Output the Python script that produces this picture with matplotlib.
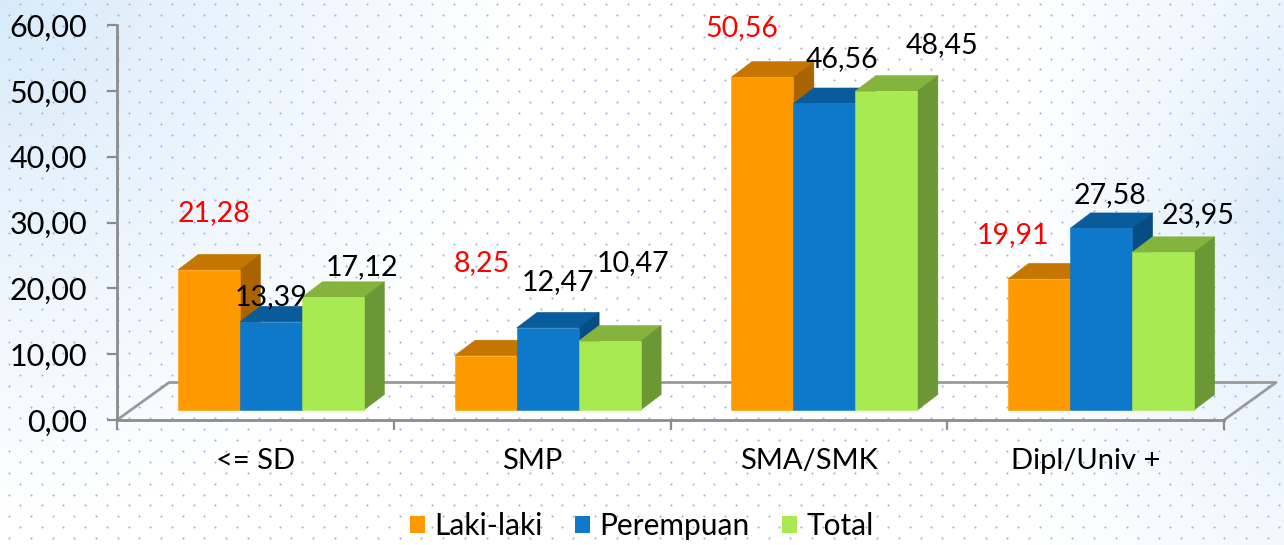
import numpy as np
import matplotlib
matplotlib.use('Agg')
import matplotlib.pyplot as plt
from matplotlib.patches import Polygon, Patch
from matplotlib.lines import Line2D

# ---------------- data ----------------
categories = ['<= SD', 'SMP', 'SMA/SMK', 'Dipl/Univ +']
series_names = ['Laki-laki', 'Perempuan', 'Total']
laki = [21.28, 8.25, 50.56, 19.91]
perempuan = [13.39, 12.47, 46.56, 27.58]
total = [17.12, 10.47, 48.45, 23.95]
yticks = [0, 10, 20, 30, 40, 50, 60]

# ---------------- style ----------------
front_colors = ['#FF9900', '#0E78CA', '#A8EA52']
top_colors = ['#C47600', '#0A5B9C', '#84B43E']
side_colors = ['#A96400', '#084C84', '#6B9834']
label_colors = ['#FF0000', '#000000', '#000000']
# value-label offsets in pixels relative to the front-top centre of each bar
label_offsets = [
    [(5, 57), (0, 25), (29, 30)],
    [(-4, 93), (10, 46), (23, 78)],
    [(-21, 49), (18, 44), (56, 46)],
    [(-26, 44), (9, 33), (35, 37)],
]
axis_grey = '#8c8c8c'
plt.rcParams['font.family'] = ['Lato', 'DejaVu Sans']

W, H = 1284, 545
fig = plt.figure(figsize=(W / 100, H / 100), dpi=100)

# ---------------- background ----------------
bg = fig.add_axes([0, 0, 1, 1])
bg.set_xlim(0, W)
bg.set_ylim(H, 0)
bg.axis('off')
xx, yy = np.meshgrid(np.linspace(0, 1, 400), np.linspace(0, 1, 170))
lt = np.clip(1 - np.sqrt((xx / 0.40) ** 2 + (yy / 0.95) ** 2), 0, 1)
rt = np.clip((xx - 0.80) / 0.20, 0, 1) * np.clip(1 - np.abs(yy - 0.4) / 0.9, 0, 1)
wgt = np.clip(np.maximum(lt * 1.0, rt * 0.9), 0, 1)
blue = np.array([0.85, 0.92, 0.98])
img = np.ones((170, 400, 3)) * (1 - wgt[..., None]) + blue * wgt[..., None]
bg.imshow(img, extent=[0, W, H, 0], aspect='auto', zorder=0)
dx_grid, dy_grid = 21.7, 10.9
pts = []
for r in range(int(H / dy_grid) + 2):
    y = 4 + r * dy_grid
    off = 0 if r % 2 == 0 else dx_grid / 2
    for c in range(int(W / dx_grid) + 2):
        pts.append((20 + off + c * dx_grid - dx_grid, y))
pts = np.array(pts)
bg.scatter(pts[:, 0], pts[:, 1], s=2.2, color='#a3b3e4', linewidths=0, zorder=1)

# ---------------- main axes ----------------
ax_l, ax_b, ax_w, ax_h = 117, 125, 1107, 395
ax = fig.add_axes([ax_l / W, ax_b / H, ax_w / W, ax_h / H])
ax.patch.set_visible(False)
ax.set_xlim(-0.5, len(categories) - 0.5)
ax.set_ylim(yticks[0], yticks[-1])
px_x = ax_w / (len(categories))          # pixels per x unit
px_y = ax_h / (yticks[-1] - yticks[0])   # pixels per y unit

# floor
fd_x, fd_y = 52 / px_x, 37.5 / px_y
ax.add_line(Line2D([-0.5, -0.5 + fd_x, 3.5 + fd_x, 3.5], [0, fd_y, fd_y, 0],
                   color='#9a9a9a', lw=2, clip_on=False, zorder=1))

# bars
series = [laki, perempuan, total]
bw = 62 / px_x
start = -77.5 / px_x
base = 10 / px_y
ddx, ddy = 20.5 / px_x, 15.5 / px_y
for j, vals in enumerate(series):
    xs = np.arange(len(categories)) + start + j * bw
    z = 3 + j * 3
    ax.bar(xs, vals, width=bw, bottom=base, align='edge', color=front_colors[j],
           edgecolor=front_colors[j], linewidth=0.4, zorder=z + 2)
    for i, (x0, v) in enumerate(zip(xs, vals)):
        t = base + v
        x1 = x0 + bw
        ax.add_patch(Polygon([(x0, t), (x1, t), (x1 + ddx, t + ddy), (x0 + ddx, t + ddy)],
                             closed=True, facecolor=top_colors[j], edgecolor=top_colors[j],
                             lw=0.4, zorder=z))
        ax.add_patch(Polygon([(x1, base), (x1 + ddx, base + ddy), (x1 + ddx, t + ddy), (x1, t)],
                             closed=True, facecolor=side_colors[j], edgecolor=side_colors[j],
                             lw=0.4, zorder=z + 1))
        ox, oy = label_offsets[i][j]
        ax.annotate(f"{v:.2f}".replace('.', ','), xy=(x0 + bw / 2, t), xytext=(ox, oy),
                    textcoords='offset pixels', ha='center', va='center',
                    fontsize=20.5, color=label_colors[j], zorder=20)

# axes styling
for s in ['top', 'right']:
    ax.spines[s].set_visible(False)
for s in ['left', 'bottom']:
    ax.spines[s].set_color(axis_grey)
    ax.spines[s].set_linewidth(2)
ax.set_yticks(yticks)
ax.set_yticklabels([f"{v:.2f}".replace('.', ',') for v in yticks])
ax.tick_params(axis='y', length=7.5, width=1.6, color=axis_grey, pad=14, labelsize=22)
ax.set_xticks(np.arange(len(categories) + 1) - 0.5)
ax.set_xticklabels([])
ax.tick_params(axis='x', which='major', length=7.5, width=1.6, color=axis_grey)
ax.set_xticks(np.arange(len(categories)), minor=True)
ax.set_xticklabels(categories, minor=True)
ax.tick_params(axis='x', which='minor', length=0, pad=20, labelsize=21)

# legend
handles = [Patch(facecolor=c, edgecolor='none') for c in front_colors]
fig.legend(handles, series_names, loc='center', bbox_to_anchor=(642 / W, 1 - 526 / H),
           ncol=3, frameon=False, fontsize=21.5, handlelength=0.5, handleheight=0.5,
           handletextpad=0.3, columnspacing=1.1, borderpad=0)

fig.savefig('out.png', dpi=100)
